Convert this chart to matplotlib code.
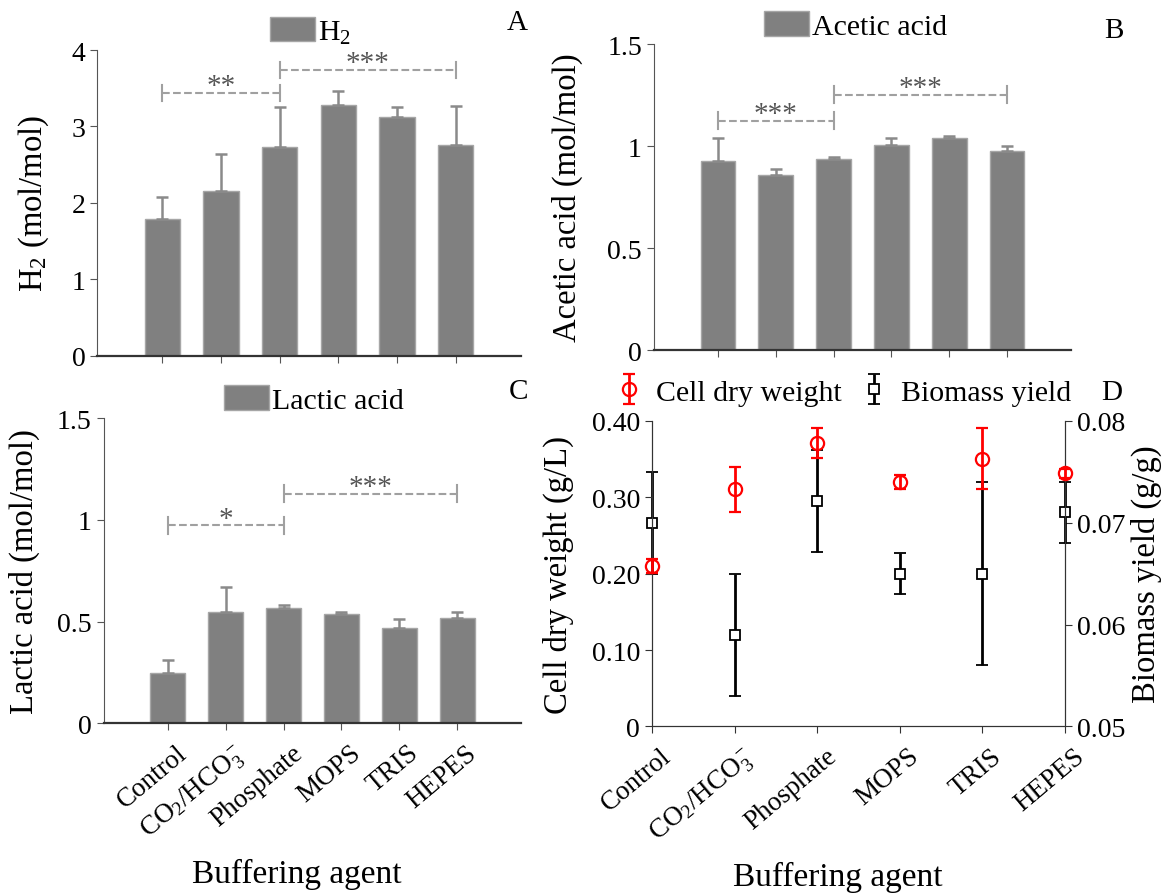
import matplotlib
matplotlib.use("Agg")
import matplotlib.pyplot as plt
import matplotlib.transforms as mtrans
import numpy as np

plt.rcParams["font.family"] = ["Liberation Serif", "DejaVu Serif"]
plt.rcParams["mathtext.fontset"] = "custom"
plt.rcParams["mathtext.rm"] = "Liberation Serif"
plt.rcParams["mathtext.it"] = "Liberation Serif:italic"

# data
agents = ["Control", r"CO$_2$/HCO$_3^-$", "Phosphate", "MOPS", "TRIS", "HEPES"]

h2 = [1.79, 2.16, 2.73, 3.28, 3.13, 2.76]
h2_err = [0.29, 0.48, 0.52, 0.18, 0.13, 0.51]

acetic = [0.925, 0.858, 0.936, 1.007, 1.038, 0.977]
acetic_err = [0.115, 0.029, 0.012, 0.034, 0.013, 0.021]

lactic = [0.246, 0.548, 0.567, 0.538, 0.467, 0.518]
lactic_err = [0.065, 0.121, 0.015, 0.010, 0.044, 0.031]

cdw = [0.210, 0.310, 0.371, 0.320, 0.350, 0.331]
cdw_err = [0.009, 0.030, 0.020, 0.009, 0.040, 0.006]

biomass = [0.0700, 0.0590, 0.0721, 0.0650, 0.0650, 0.0710]
biomass_err = [0.0050, 0.0060, 0.0050, 0.0020, 0.0090, 0.0030]

# significance brackets: (from, to, level, stars)
sig_h2 = [(0, 2, 3.44, "**"), (2, 5, 3.74, "***")]
sig_acetic = [(0, 2, 1.124, "***"), (2, 5, 1.252, "***")]
sig_lactic = [(0, 2, 0.974, "*"), (2, 5, 1.13, "***")]

BAR = "#808080"
TICK_FS = 20
CAT_FS = 19.5
LAB_FS = 23.5
XLAB_FS = 24
LEG_FS = 21.5

fig = plt.figure(figsize=(11.72, 8.95), dpi=100)
axA = fig.add_axes([0.0829, 0.6014, 0.3614, 0.3416])
axB = fig.add_axes([0.5578, 0.6078, 0.3563, 0.3419])
axC = fig.add_axes([0.0884, 0.1907, 0.3565, 0.3408])
axD = fig.add_axes([0.5563, 0.1872, 0.3524, 0.3417])

x = np.arange(len(agents))


def bar_panel(ax, vals, errs, ymax, yticks, yticklabels, name, ylabel, sig, legx):
    ax.bar(x, vals, width=0.6, color=BAR, edgecolor="#a6a6a6", linewidth=1,
           yerr=[np.zeros(len(vals)), errs],
           error_kw=dict(ecolor="#8a8a8a", elinewidth=1.8, capsize=4, capthick=1.8),
           label=name, zorder=2)
    ax.set_xlim(-1.11, 6.11)
    ax.set_ylim(0, ymax)
    ax.set_yticks(yticks)
    ax.set_yticklabels(yticklabels, fontsize=TICK_FS)
    ax.set_xticks(x)
    ax.set_ylabel(ylabel, fontsize=LAB_FS)
    for s in ["top", "right"]:
        ax.spines[s].set_visible(False)
    ax.spines["left"].set_color("#555555")
    ax.spines["bottom"].set_color("#333333")
    ax.spines["bottom"].set_linewidth(1.6)
    ax.tick_params(axis="both", direction="out", length=5, color="#555555")
    dh = 0.027 * ymax
    for i, j, h, st in sig:
        ax.plot([x[i], x[j]], [h, h], ls="--", color="#a0a0a0", lw=1.5, zorder=3)
        for k in (i, j):
            ax.plot([x[k], x[k]], [h - dh, h + dh], color="#a0a0a0", lw=1.5, zorder=3)
        ax.text((x[i] + x[j]) / 2, h + 0.022 * ymax, st, ha="center", va="center",
                fontsize=21, color="#555555")
    ax.legend(loc="lower center", bbox_to_anchor=(legx, 1.0), frameon=False,
              fontsize=LEG_FS, handlelength=1.5, handleheight=0.9, handletextpad=0.1,
              borderaxespad=0.0, borderpad=0.15)


bar_panel(axA, h2, h2_err, 4, [0, 1, 2, 3, 4], ["0", "1", "2", "3", "4"],
          r"H$_2$", r"H$_2$ (mol/mol)", sig_h2, 0.504)
axA.set_xticklabels([])
axA.yaxis.set_label_coords(-0.11, 0.5)
axA.text(0.991, 1.092, "A", transform=axA.transAxes, fontsize=21, ha="center", va="center")

bar_panel(axB, acetic, acetic_err, 1.5, [0, 0.5, 1, 1.5], ["0", "0.5", "1", "1.5"],
          "Acetic acid", "Acetic acid (mol/mol)", sig_acetic, 0.484)
axB.set_xticklabels([])
axB.yaxis.set_label_coords(-0.169, 0.5)
axB.text(1.102, 1.046, "B", transform=axB.transAxes, fontsize=21, ha="center", va="center")

bar_panel(axC, lactic, lactic_err, 1.5, [0, 0.5, 1, 1.5], ["0", "0.5", "1", "1.5"],
          "Lactic acid", "Lactic acid (mol/mol)", sig_lactic, 0.504)
axC.yaxis.set_label_coords(-0.153, 0.5)
axC.text(0.992, 1.09, "C", transform=axC.transAxes, fontsize=21, ha="center", va="center")

# panel D: cell dry weight (left) and biomass yield (right)
axD2 = axD.twinx()
eb2 = axD2.errorbar(x, biomass, yerr=biomass_err, fmt="s", ms=7, mfc="white",
                    mec="black", mew=1.3, ecolor="black", elinewidth=2, capsize=4.3,
                    capthick=2, label="Biomass yield", zorder=2)
eb1 = axD.errorbar(x, cdw, yerr=cdw_err, fmt="o", ms=9.5, mfc="none", mec="red",
                   mew=1.6, ecolor="red", elinewidth=2, capsize=4.3, capthick=2,
                   label="Cell dry weight", zorder=5)
for eb in (eb1, eb2):
    for art in eb.get_children():
        art.set_clip_on(False)
axD.set_zorder(axD2.get_zorder() + 1)
axD.patch.set_visible(False)
axD.set_xlim(0, 5)
axD.set_ylim(0, 0.40)
axD.set_yticks([0, 0.1, 0.2, 0.3, 0.4])
axD.set_yticklabels(["0", "0.10", "0.20", "0.30", "0.40"], fontsize=TICK_FS)
axD2.set_ylim(0.05, 0.08)
axD2.set_yticks([0.05, 0.06, 0.07, 0.08])
axD2.set_yticklabels(["0.05", "0.06", "0.07", "0.08"], fontsize=TICK_FS)
axD.set_ylabel("Cell dry weight (g/L)", fontsize=LAB_FS)
axD2.set_ylabel("Biomass yield (g/g)", fontsize=LAB_FS)
axD.yaxis.set_label_coords(-0.189, 0.5)
axD2.yaxis.set_label_coords(1.16, 0.5)
for a in (axD, axD2):
    a.spines["top"].set_visible(False)
    a.spines["left"].set_color("#333333")
    a.spines["right"].set_color("#333333")
    a.spines["bottom"].set_color("#333333")
    a.tick_params(direction="out", length=5, color="#333333")
axD.set_xticks(x)
axD.legend([eb1, eb2], ["Cell dry weight", "Biomass yield"], loc="lower center",
           bbox_to_anchor=(0.465, 1.0), ncol=2, frameon=False, fontsize=LEG_FS,
           handlelength=0.8, handletextpad=0.5, columnspacing=0.7, borderaxespad=0.1)
axD.text(1.113, 1.094, "D", transform=axD.transAxes, fontsize=21, ha="center", va="center")

# rotated category labels
shift = mtrans.ScaledTranslation(8 / 100, -5 / 100, fig.dpi_scale_trans)
for ax, xc in ((axC, 0.462), (axD, 0.45)):
    ax.set_xticklabels(agents, fontsize=CAT_FS, rotation=40, ha="right",
                       rotation_mode="anchor")
    for lab in ax.get_xticklabels():
        lab.set_transform(lab.get_transform() + shift)
    ax.set_xlabel("Buffering agent", fontsize=XLAB_FS)
    ax.xaxis.set_label_coords(xc, -0.44)

fig.savefig("out.png", dpi=100)
